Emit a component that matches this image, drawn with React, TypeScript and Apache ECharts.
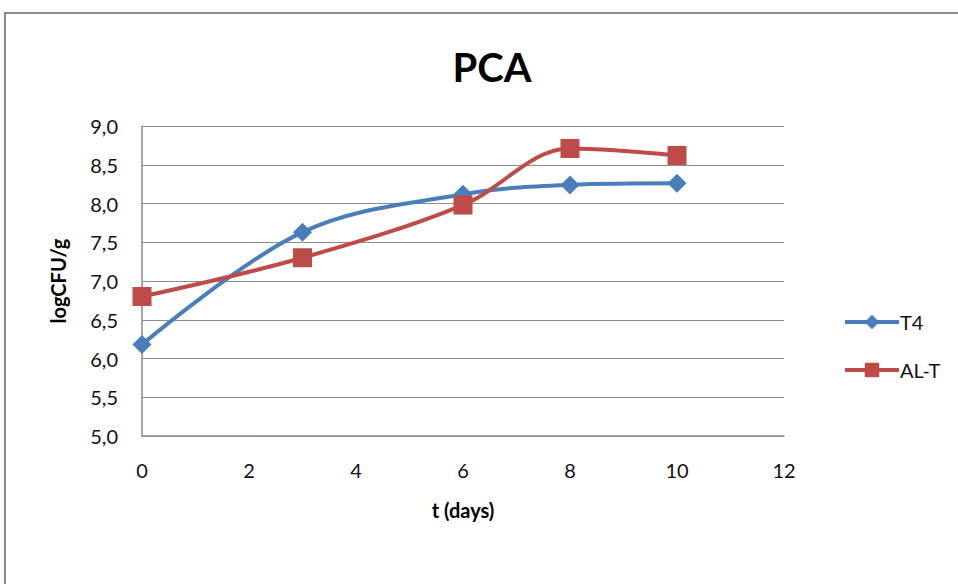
import React, { useEffect, useRef } from "react";
import * as echarts from "echarts";

// Storage time in days and plate counts (log CFU/g) on PCA
const days = [0, 3, 6, 8, 10];
const t4Values = [6.18, 7.63, 8.12, 8.24, 8.26];
const altValues = [6.8, 7.3, 7.98, 8.71, 8.62];

const seriesNames = ["T4", "AL-T"];
const xTicks = [0, 2, 4, 6, 8, 10, 12];
const yTicks = [5.0, 5.5, 6.0, 6.5, 7.0, 7.5, 8.0, 8.5, 9.0];

const FONT = "Lato, 'Open Sans', 'DejaVu Sans', sans-serif";

export default function App() {
  const ref = useRef<HTMLDivElement>(null);

  useEffect(() => {
    if (!ref.current) return;
    const chart = echarts.init(ref.current, undefined, { renderer: "svg" });

    const pair = (vals: number[]) => days.map((d, i) => [d, vals[i]]);

    chart.setOption({
      animation: false,
      backgroundColor: "#ffffff",
      title: {
        text: "PCA",
        left: 487,
        top: 42,
        textAlign: "center",
        textStyle: { fontFamily: FONT, fontSize: 40, fontWeight: "bold", color: "#000" },
      },
      grid: { left: 142, top: 126, right: 174, bottom: 148, containLabel: false },
      xAxis: {
        type: "value",
        min: xTicks[0],
        max: xTicks[xTicks.length - 1],
        interval: 2,
        name: "t (days)",
        nameLocation: "middle",
        nameGap: 64,
        nameTextStyle: { fontFamily: FONT, fontSize: 20, fontWeight: "bold", color: "#000" },
        axisLine: { show: true, lineStyle: { color: "#8c8c8c", width: 1.5 } },
        axisTick: { show: false },
        splitLine: { show: false },
        axisLabel: { fontFamily: FONT, fontSize: 20, color: "#111", margin: 24 },
      },
      yAxis: {
        type: "value",
        min: yTicks[0],
        max: yTicks[yTicks.length - 1],
        interval: 0.5,
        name: "logCFU/g",
        nameLocation: "middle",
        nameRotate: 90,
        nameGap: 74,
        nameTextStyle: { fontFamily: FONT, fontSize: 20, fontWeight: "bold", color: "#000" },
        axisLine: { show: true, lineStyle: { color: "#8c8c8c", width: 1.5 } },
        axisTick: { show: false },
        splitLine: { show: true, lineStyle: { color: "#8c8c8c", width: 1.2 } },
        axisLabel: {
          fontFamily: FONT,
          fontSize: 20,
          color: "#111",
          margin: 24,
          formatter: (v: number) => v.toFixed(1).replace(".", ","),
        },
      },
      legend: {
        orient: "vertical",
        left: 838,
        top: 307,
        itemWidth: 54,
        itemHeight: 18,
        itemGap: 28,
        lineStyle: { width: 4 },
        textStyle: { fontFamily: FONT, fontSize: 20, color: "#111", padding: [0, 0, 0, -4] },
        data: seriesNames,
      },
      series: [
        {
          name: seriesNames[0],
          type: "line",
          data: pair(t4Values),
          smooth: 0.35,
          symbol: "diamond",
          symbolSize: 19,
          lineStyle: { color: "#4a7ebb", width: 4 },
          itemStyle: { color: "#4a7ebb" },
          z: 2,
        },
        {
          name: seriesNames[1],
          type: "line",
          data: pair(altValues),
          smooth: 0.35,
          symbol: "rect",
          symbolSize: 19,
          lineStyle: { color: "#be4b48", width: 4 },
          itemStyle: { color: "#be4b48" },
          z: 3,
        },
      ],
      graphic: [
        {
          type: "rect",
          shape: { x: 5, y: 13, width: 1000, height: 700 },
          style: { fill: "none", stroke: "#8a8a8a", lineWidth: 2 },
          silent: true,
        },
      ],
    });

    return () => chart.dispose();
  }, []);

  return <div ref={ref} style={{ width: 958, height: 584, position: "absolute", left: 0, top: 0 }} />;
}
